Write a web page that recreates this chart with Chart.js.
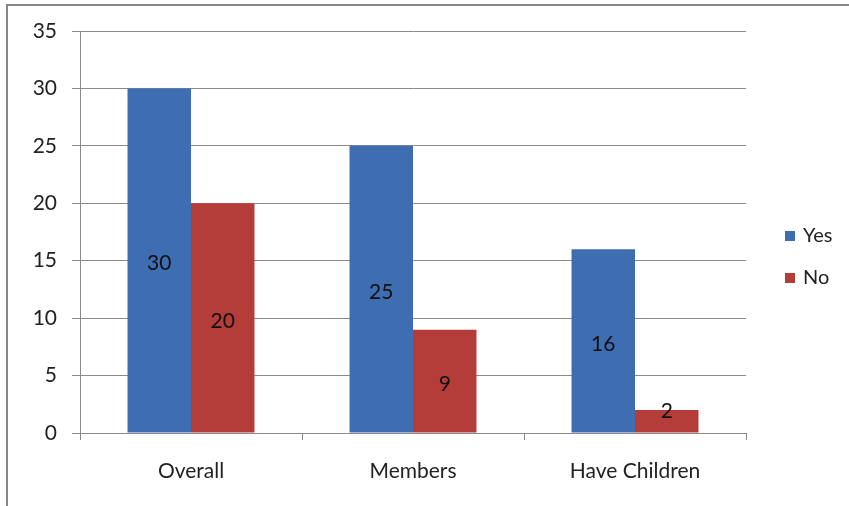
<!DOCTYPE html>
<html lang="en">
<head>
    <meta charset="UTF-8">
    <title>Yes / No by Group</title>
    <script src="https://cdn.jsdelivr.net/npm/chart.js"></script>
    <style>
        html, body { margin: 0; padding: 0; background: #fff; }
        #wrap { width: 849px; height: 506px; position: relative; }
    </style>
</head>
<body>
    <div id="wrap"><canvas id="surveyChart"></canvas></div>

    <script>
        const categories = ['Overall', 'Members', 'Have Children'];
        const yesValues = [30, 25, 16];
        const noValues = [20, 9, 2];
        const yTicks = [0, 5, 10, 15, 20, 25, 30, 35];

        const FONT = 'Lato, "Open Sans", sans-serif';
        const BLUE = '#3e6db2';
        const RED = '#b43d39';
        const AXIS = '#8a8a8a';

        // outer frame, only the top and left edges fall inside the canvas
        const framePlugin = {
            id: 'frame',
            beforeDraw(chart) {
                const ctx = chart.ctx;
                ctx.save();
                ctx.strokeStyle = '#878787';
                ctx.lineWidth = 2;
                ctx.strokeRect(7, 5, chart.width + 20, chart.height + 20);
                ctx.restore();
            }
        };

        // value written in the middle of each bar
        const valueLabels = {
            id: 'valueLabels',
            afterDatasetsDraw(chart) {
                const ctx = chart.ctx;
                ctx.save();
                ctx.font = '21px ' + FONT;
                ctx.fillStyle = '#111';
                ctx.textAlign = 'center';
                ctx.textBaseline = 'middle';
                chart.data.datasets.forEach((ds, i) => {
                    chart.getDatasetMeta(i).data.forEach((bar, j) => {
                        const mid = (bar.y + bar.base) / 2 + 3;
                        const y = Math.min(mid, bar.base - 21);
                        ctx.fillText(String(ds.data[j]), bar.x, y);
                    });
                });
                ctx.restore();
            }
        };

        // legend at the right of the plot
        const sideLegend = {
            id: 'sideLegend',
            afterDraw(chart) {
                const ctx = chart.ctx;
                ctx.save();
                ctx.font = '20px ' + FONT;
                ctx.textBaseline = 'middle';
                chart.data.datasets.forEach((ds, i) => {
                    const y = 236 + i * 42;
                    ctx.fillStyle = ds.backgroundColor;
                    ctx.fillRect(785, y - 5, 10, 10);
                    ctx.fillStyle = '#222';
                    ctx.fillText(ds.label, 803, y);
                });
                ctx.restore();
            }
        };

        const ctx = document.getElementById('surveyChart').getContext('2d');
        new Chart(ctx, {
            type: 'bar',
            data: {
                labels: categories,
                datasets: [
                    { label: 'Yes', data: yesValues, backgroundColor: BLUE },
                    { label: 'No', data: noValues, backgroundColor: RED }
                ]
            },
            options: {
                responsive: true,
                maintainAspectRatio: false,
                animation: false,
                devicePixelRatio: 1,
                layout: { padding: { left: 0, top: 31, right: 103, bottom: 0 } },
                datasets: {
                    bar: { categoryPercentage: 0.572, barPercentage: 1.0 }
                },
                plugins: {
                    legend: { display: false },
                    tooltip: { enabled: false }
                },
                scales: {
                    x: {
                        afterFit(scale) { scale.height = 73; },
                        grid: {
                            drawOnChartArea: false,
                            drawTicks: true,
                            tickLength: 7,
                            color: AXIS
                        },
                        border: { color: AXIS, width: 1 },
                        ticks: {
                            color: '#222',
                            padding: 19,
                            font: { family: FONT, size: 21 }
                        }
                    },
                    y: {
                        min: 0,
                        max: 35,
                        afterFit(scale) { scale.width = 80; },
                        afterBuildTicks(scale) {
                            scale.ticks = yTicks.map(v => ({ value: v }));
                        },
                        grid: {
                            color: AXIS,
                            tickLength: 8,
                            lineWidth: 1
                        },
                        border: { color: AXIS, width: 1 },
                        ticks: {
                            color: '#222',
                            padding: 15,
                            font: { family: FONT, size: 21 }
                        }
                    }
                }
            },
            plugins: [framePlugin, valueLabels, sideLegend]
        });
    </script>
</body>
</html>
